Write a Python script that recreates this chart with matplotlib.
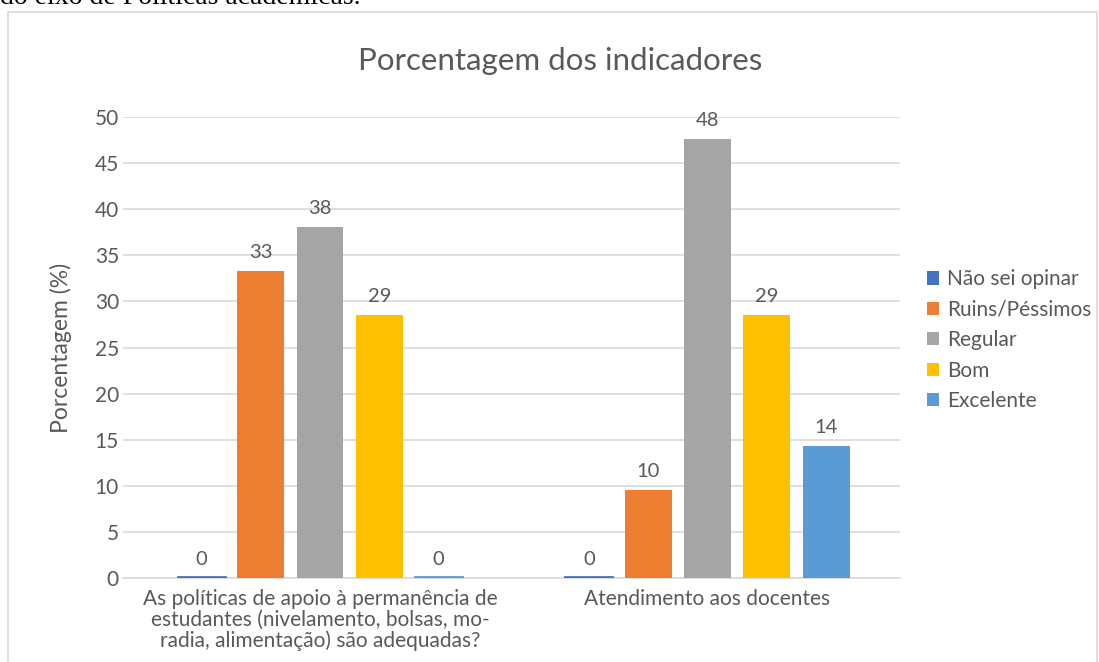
import numpy as np
import matplotlib.pyplot as plt
from matplotlib.patches import Rectangle

# Data
categories = ['As políticas de apoio à permanência de\nestudantes (nivelamento, bolsas, mo-\nradia, alimentação) são adequadas?',
              'Atendimento aos docentes']
series = ['Não sei opinar', 'Ruins/Péssimos', 'Regular', 'Bom', 'Excelente']
nao_sei = [0, 0]
ruins = [33.33, 9.52]
regular = [38.10, 47.62]
bom = [28.57, 28.57]
excelente = [0, 14.29]
colors = ['#4472C4', '#ED7D31', '#A5A5A5', '#FFC000', '#5B9BD5']

plt.rcParams['font.family'] = ['Lato', 'DejaVu Sans']
txt = '#595959'

fig = plt.figure(figsize=(10.99, 6.62), dpi=100)
ax = fig.add_axes([0.112, 0.127, 0.707, 0.696])

# chart border and the caption cut off above it
fig.patches.append(Rectangle((8 / 1099, -0.05), 1089 / 1099, 1 - 12 / 662 + 0.05,
                             transform=fig.transFigure, fill=False,
                             edgecolor='#d9d9d9', linewidth=1.2))
fig.text(0.0, 1 - 4 / 662, 'do eixo de Políticas acadêmicas.', family='Liberation Serif',
         fontsize=20, va='baseline', ha='left', color='black')

x = np.arange(len(categories))
pitch = 0.153
width = 0.121
all_vals = [nao_sei, ruins, regular, bom, excelente]
for i, (name, vals, c) in enumerate(zip(series, all_vals, colors)):
    pos = x + (i - 2) * pitch
    bars = ax.bar(pos, vals, width, color=c, label=name, zorder=3)
    for p, v in zip(pos, vals):
        if v == 0:
            ax.plot([p - width / 2, p + width / 2], [0.1, 0.1], color=c, lw=2, zorder=4)
        ax.text(p, v + 1.1, f'{v:.0f}', ha='center', va='bottom', fontsize=14.5, color=txt)

ax.set_xlim(-0.508, 1.497)
ax.set_ylim(0, 50)
ax.set_yticks(range(0, 51, 5))
ax.set_xticks(x)
ax.set_xticklabels(categories, fontsize=15, color=txt, linespacing=1.05)
ax.tick_params(axis='both', length=0, labelsize=15, labelcolor=txt)
ax.tick_params(axis='y', pad=3)
ax.tick_params(axis='x', pad=8)
ax.grid(axis='y', color='#d9d9d9', lw=1.2, zorder=0)
for s in ['top', 'right', 'left']:
    ax.spines[s].set_visible(False)
ax.spines['bottom'].set_color('#d9d9d9')
ax.spines['bottom'].set_linewidth(1.2)

ax.set_ylabel('Porcentagem (%)', fontsize=16.5, color=txt, labelpad=16)
fig.text(0.51, 1 - 61 / 662, 'Porcentagem dos indicadores', ha='center', va='center',
         fontsize=22.5, color=txt)

leg = ax.legend(loc='center left', bbox_to_anchor=(1.01, 0.516), frameon=False,
                fontsize=15, handlelength=0.6, handleheight=0.6, handletextpad=0.4,
                labelspacing=0.5)
for t in leg.get_texts():
    t.set_color(txt)

fig.savefig('out.png', dpi=100)
